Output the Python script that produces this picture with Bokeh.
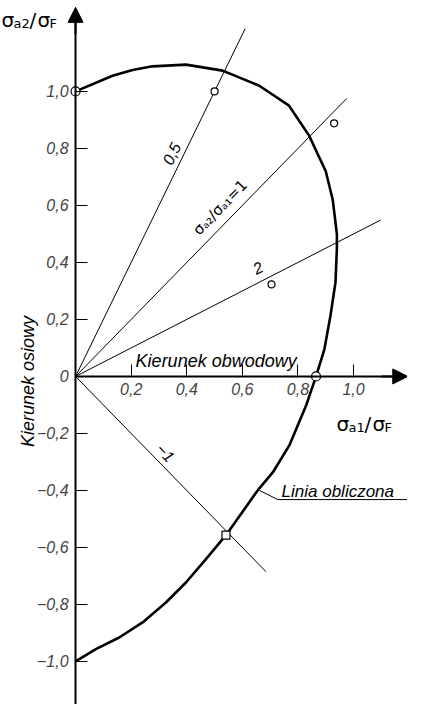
from bokeh.plotting import figure
from bokeh.models import Range1d, FixedTicker, CustomJSTickFormatter, Arrow, NormalHead
from bokeh.core.properties import value
from bokeh.embed import file_html
from bokeh.resources import INLINE
import math

# ---- data ----
curve_x = [0.0, 0.133, 0.205, 0.277, 0.397, 0.529, 0.661, 0.768, 0.84, 0.90, 0.925, 0.94,
           0.94, 0.935, 0.917, 0.895, 0.865, 0.83, 0.77, 0.71, 0.655, 0.541, 0.469, 0.397,
           0.325, 0.241, 0.157, 0.073, 0.0]
curve_y = [1.0, 1.055, 1.075, 1.088, 1.094, 1.073, 1.02, 0.95, 0.845, 0.72, 0.62, 0.50,
           0.45, 0.33, 0.214, 0.095, 0.0, -0.10, -0.24, -0.336, -0.40, -0.557, -0.641, -0.723,
           -0.793, -0.863, -0.916, -0.957, -1.0]

ray_ratio = [2.0, 1.0, 0.5, -1.0]
ray_end_x = [0.61, 0.975, 1.097, 0.685]

meas_x = [0.0, 0.5, 0.93, 0.705, 0.865]
meas_y = [1.0, 1.0, 0.888, 0.323, 0.0]
meas_size = [9, 7, 7, 7, 9]
sq_x = [0.541]
sq_y = [-0.557]

x_ticks = [0.2, 0.4, 0.6, 0.8, 1.0]
y_ticks = [-1.0, -0.8, -0.6, -0.4, -0.2, 0.0, 0.2, 0.4, 0.6, 0.8, 1.0]

FONT = "Liberation Sans"

p = figure(width=407, height=704, x_range=Range1d(-0.270, 1.194), y_range=Range1d(-1.151, 1.319),
           output_backend="svg", toolbar_location=None, min_border=0)
p.outline_line_color = None
p.grid.visible = False

fmt = CustomJSTickFormatter(code="""
if (Math.abs(tick) < 1e-9) return '0';
return tick.toFixed(1).replace('.', ',').replace('-', '\u2212');
""")

for ax, ticks, bnd in ((p.xaxis, x_ticks, (0, 1.17)), (p.yaxis, y_ticks, (-1.151, 1.27))):
    ax.fixed_location = 0
    ax.ticker = FixedTicker(ticks=ticks)
    ax.formatter = fmt
    ax.bounds = bnd
    ax.axis_line_width = 2
    ax.major_tick_in = 12
    ax.major_tick_out = 0
    ax.minor_tick_in = 0
    ax.minor_tick_out = 0
    ax.major_tick_line_width = 1
    ax.major_label_text_font = FONT
    ax.major_label_text_font_style = "italic"
    ax.major_label_text_font_size = "16px"
    ax.major_label_standoff = 7

# axis arrow heads
p.add_layout(Arrow(end=NormalHead(size=15, fill_color="black", line_color="black"),
                   x_start=0, y_start=1.2, x_end=0, y_end=1.295, line_width=2))
p.add_layout(Arrow(end=NormalHead(size=15, fill_color="black", line_color="black"),
                   x_start=1.1, y_start=0, x_end=1.195, y_end=0, line_width=2))

# rays
for r, xe in zip(ray_ratio, ray_end_x):
    p.line([0, xe], [0, r * xe], line_width=1, color="black")

# computed line
p.line(curve_x, curve_y, line_width=2.6, color="black", line_join="round")

# measured points
p.scatter(meas_x, meas_y, size=meas_size, marker="circle", fill_color="white", line_color="black", line_width=1.2)
p.scatter(sq_x, sq_y, size=8, marker="square", fill_color="white", line_color="black", line_width=1.2)

def txt(x, y, s, size="16px", angle=0.0, align="center", baseline="middle", style="italic", xo=0, yo=0, font=FONT):
    p.text([x], [y], text=[s], angle=angle, text_align=align, text_baseline=baseline,
           text_font=value(font), text_font_style=style, text_font_size=size,
           x_offset=xo, y_offset=yo, text_color="black")

ang = lambda slope: math.atan2(slope * 285, 278)

txt(0.345, 0.782, "0,5", angle=ang(2.0))
txt(0.52, 0.593, "σₐ₂/σₐ₁=1", angle=ang(1.0), font="DejaVu Sans", size="15px", style="normal")
txt(0.655, 0.382, "2", angle=ang(0.5))
txt(0.324, -0.267, "−1", angle=ang(-1.0))
txt(0.216, 0.053, "Kierunek obwodowy", size="18px", align="left", baseline="alphabetic")
txt(-0.17, -0.018, "Kierunek osiowy", size="18px", angle=math.pi / 2)
txt(0.741, -0.405, "Linia obliczona", size="17px", align="left", baseline="alphabetic")
p.line([0.662, 0.727, 1.194], [-0.40, -0.432, -0.432], line_width=1, color="black")

def composite(x, y, sub1):
    parts = [("σ", "20px", 0, 0), (sub1, "13px", 12, 3), ("/", "20px", 28, 0), ("σ", "20px", 36, 0), ("F", "13px", 48, 3)]
    for s, sz, xo, yo in parts:
        txt(x, y, s, size=sz, align="left", baseline="alphabetic", style="normal", xo=xo, yo=yo, font="DejaVu Sans")

composite(-0.266, 1.249, "a2")
composite(0.939, -0.168, "a1")

open("out.html", "w").write(file_html(p, INLINE))
